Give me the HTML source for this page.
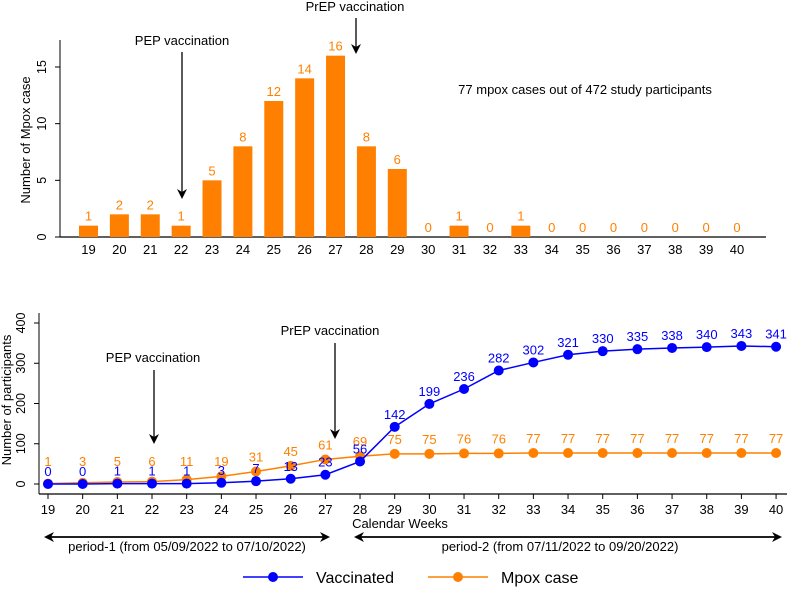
<!DOCTYPE html>
<html><head><meta charset="utf-8"><style>
body{margin:0;background:#fff}
svg{display:block;font-family:"Liberation Sans",sans-serif}
</style></head><body>
<svg id="chart" width="787" height="593" viewBox="0 0 787 593">
<defs><marker id="ah" markerWidth="10" markerHeight="10" refX="8" refY="5" orient="auto" markerUnits="userSpaceOnUse"><path d="M0,0 L10,5 L0,10 L3,5 z" fill="#000"/></marker></defs>
<g id="top"></g>
<g id="bot"></g>
</svg>
<script>
const weeks=[19,20,21,22,23,24,25,26,27,28,29,30,31,32,33,34,35,36,37,38,39,40];
const weeklyCases=[1,2,2,1,5,8,12,14,16,8,6,0,1,0,1,0,0,0,0,0,0,0];
const vaccinated=[0,0,1,1,1,3,7,13,23,56,142,199,236,282,302,321,330,335,338,340,343,341];
const mpoxCum=[1,3,5,6,11,19,31,45,61,69,75,75,76,76,77,77,77,77,77,77,77,77];
const topTicks=[0,5,10,15];
const botTicks=[0,100,200,300,400];
const NS='http://www.w3.org/2000/svg';
const OR='#ff8000',BL='#0000ff';
function mk(p,tag,a,txt){const e=document.createElementNS(NS,tag);for(const k in a)e.setAttribute(k,a[k]);if(txt!==undefined)e.textContent=txt;p.appendChild(e);return e;}
// top
const T=document.getElementById('top');
const tx=i=>88.5+i*30.88, ty=v=>237-v*170/15;
let e=mk(T,'line',{x1:60,y1:237,x2:766,y2:237,stroke:'#000','stroke-width':1.2});

e=mk(T,'line',{x1:60,y1:40,x2:60,y2:237,stroke:'#000','stroke-width':1});

topTicks.forEach(v=>{mk(T,'line',{x1:55,x2:60,y1:ty(v),y2:ty(v),stroke:'#000'});
 e=mk(T,'text',{x:0,y:0,'font-size':12.5,'text-anchor':'middle',transform:`translate(46,${ty(v)}) rotate(-90)`},v);
 });
e=mk(T,'text',{'font-size':13,'text-anchor':'middle',transform:'translate(30,140) rotate(-90)'},'Number of Mpox case');

weeks.forEach((w,i)=>{const v=weeklyCases[i];
 if(v>0){e=mk(T,'rect',{x:tx(i)-9.5,y:ty(v),width:19,height:ty(0)-ty(v),fill:OR});
 }
 e=mk(T,'text',{x:tx(i),y:ty(v)-5,'font-size':13,fill:OR,'text-anchor':'middle'},v);
 
 e=mk(T,'text',{x:tx(i),y:254,'font-size':13,'text-anchor':'middle'},w);
 });
e=mk(T,'text',{x:182,y:45,'font-size':13,'text-anchor':'middle'},'PEP vaccination');

mk(T,'line',{x1:182,y1:52,x2:182,y2:197,stroke:'#000','stroke-width':1.3,'marker-end':'url(#ah)'});
e=mk(T,'text',{x:355,y:11,'font-size':13,'text-anchor':'middle'},'PrEP vaccination');

mk(T,'line',{x1:356,y1:18,x2:356,y2:52,stroke:'#000','stroke-width':1.3,'marker-end':'url(#ah)'});
e=mk(T,'text',{x:585,y:94,'font-size':13,'text-anchor':'middle'},'77 mpox cases out of 472 study participants');

// bottom
const B=document.getElementById('bot');
const bx=i=>48+i*34.67, by=v=>484-v*0.4025;
e=mk(B,'line',{x1:39,y1:494,x2:787,y2:494,stroke:'#000','stroke-width':1.2});

e=mk(B,'line',{x1:39,y1:313,x2:39,y2:494,stroke:'#000'});

botTicks.forEach(v=>{mk(B,'line',{x1:34,x2:39,y1:by(v),y2:by(v),stroke:'#000'});
 e=mk(B,'text',{'font-size':12.5,'text-anchor':'middle',transform:`translate(25,${by(v)}) rotate(-90)`},v);
 });
e=mk(B,'text',{'font-size':13,'text-anchor':'middle',transform:'translate(11,400) rotate(-90)'},'Number of participants');

weeks.forEach((w,i)=>{mk(B,'line',{x1:bx(i),x2:bx(i),y1:494,y2:499,stroke:'#000'});
 e=mk(B,'text',{x:bx(i),y:514,'font-size':13,'text-anchor':'middle'},w);
 });
e=mk(B,'text',{x:400,y:528,'font-size':13,'text-anchor':'middle'},'Calendar Weeks');

function series(vals,col,name,lab){
 e=mk(B,'polyline',{points:vals.map((v,i)=>bx(i)+','+by(v)).join(' '),fill:'none',stroke:col,'stroke-width':1.5});
 
 vals.forEach((v,i)=>{e=mk(B,'circle',{cx:bx(i),cy:by(v),r:5,fill:col});
  
  e=mk(B,'text',{x:bx(i),y:lab(by(v)),'font-size':13,fill:col,'text-anchor':'middle'},v);
  });
}
series(mpoxCum,OR,'mpox-case',py=>Math.min(py-10,466));
series(vaccinated,BL,'vaccinated',py=>Math.min(py-8,477));
e=mk(B,'text',{x:153,y:362,'font-size':13,'text-anchor':'middle'},'PEP vaccination');

mk(B,'line',{x1:154,y1:370,x2:154,y2:442,stroke:'#000','stroke-width':1.3,'marker-end':'url(#ah)'});
e=mk(B,'text',{x:330,y:335,'font-size':13,'text-anchor':'middle'},'PrEP vaccination');

mk(B,'line',{x1:335,y1:343,x2:335,y2:437,stroke:'#000','stroke-width':1.3,'marker-end':'url(#ah)'});
mk(B,'line',{x1:328,y1:537,x2:46,y2:537,stroke:'#000','stroke-width':1.5,'marker-end':'url(#ah)'});
mk(B,'line',{x1:46,y1:537,x2:328,y2:537,stroke:'#000','stroke-width':1.5,'marker-end':'url(#ah)'});
e=mk(B,'text',{x:187,y:551,'font-size':13,'text-anchor':'middle'},'period-1 (from 05/09/2022 to 07/10/2022)');

mk(B,'line',{x1:780,y1:537,x2:356,y2:537,stroke:'#000','stroke-width':1.5,'marker-end':'url(#ah)'});
mk(B,'line',{x1:356,y1:537,x2:780,y2:537,stroke:'#000','stroke-width':1.5,'marker-end':'url(#ah)'});
e=mk(B,'text',{x:560,y:551,'font-size':13,'text-anchor':'middle'},'period-2 (from 07/11/2022 to 09/20/2022)');

const L=mk(B,'g',{});

mk(L,'line',{x1:243,x2:303,y1:577,y2:577,stroke:BL,'stroke-width':1.5});
mk(L,'circle',{cx:273,cy:577,r:5,fill:BL});
e=mk(L,'text',{x:316,y:583,'font-size':16},'Vaccinated');

mk(L,'line',{x1:428,x2:488,y1:577,y2:577,stroke:OR,'stroke-width':1.5});
mk(L,'circle',{cx:458,cy:577,r:5,fill:OR});
e=mk(L,'text',{x:501,y:583,'font-size':16},'Mpox case');

</script>
</body></html>
